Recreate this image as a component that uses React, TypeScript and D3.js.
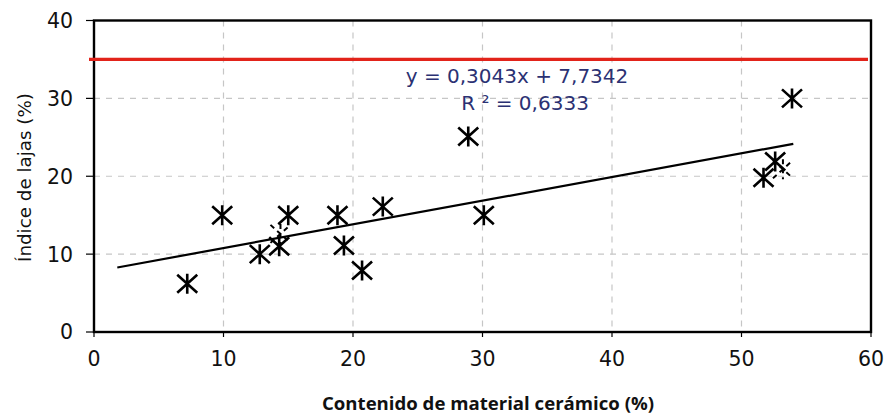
import React, { useEffect, useRef } from "react";
import * as d3 from "d3";

const xValues = [7.2, 9.9, 12.8, 14.3, 15.0, 18.8, 19.3, 20.7, 22.3, 28.9, 30.1, 51.7, 52.6, 53.9];
const yValues = [6.2, 15.0, 10.0, 11.0, 15.0, 15.0, 11.1, 7.9, 16.1, 25.1, 15.0, 19.8, 21.9, 30.0];
// markers drawn half-hidden (dashed) in the original
const ghostX = [14.4, 53.2];
const ghostY = [12.6, 20.9];
const xTicks = [0, 10, 20, 30, 40, 50, 60];
const yTicks = [0, 10, 20, 30, 40];
const slope = 0.3043;
const intercept = 7.7342;
const trendRange = [1.8, 54];
const limit = 35;

const W = 885;
const H = 414;
const margin = { left: 94, right: 14, top: 20.5, bottom: 82 };

const App = () => {
  const svgRef = useRef(null);

  useEffect(() => {
    const svg = d3.select(svgRef.current);
    svg.selectAll("*").remove();

    const x = d3.scaleLinear().domain([0, 60]).range([margin.left, W - margin.right]);
    const y = d3.scaleLinear().domain([0, 40]).range([H - margin.bottom, margin.top]);

    // grid
    svg.append("g")
      .selectAll("line")
      .data(xTicks.slice(1, -1))
      .join("line")
      .attr("x1", d => x(d)).attr("x2", d => x(d))
      .attr("y1", y(40)).attr("y2", y(0))
      .attr("stroke", "#c6c6c6").attr("stroke-width", 1.2).attr("stroke-dasharray", "6,6");
    svg.append("g")
      .selectAll("line")
      .data(yTicks.slice(1, -1))
      .join("line")
      .attr("x1", x(0)).attr("x2", x(60))
      .attr("y1", d => y(d)).attr("y2", d => y(d))
      .attr("stroke", "#c6c6c6").attr("stroke-width", 1.2).attr("stroke-dasharray", "6,6");

    // frame
    svg.append("rect")
      .attr("x", x(0)).attr("y", y(40))
      .attr("width", x(60) - x(0)).attr("height", y(0) - y(40))
      .attr("fill", "none").attr("stroke", "#000").attr("stroke-width", 2.4);

    // ticks
    svg.append("g")
      .selectAll("line")
      .data(yTicks)
      .join("line")
      .attr("x1", x(0) - 8).attr("x2", x(0))
      .attr("y1", d => y(d)).attr("y2", d => y(d))
      .attr("stroke", "#000").attr("stroke-width", 1.2);
    svg.append("g")
      .selectAll("line")
      .data(xTicks)
      .join("line")
      .attr("x1", d => x(d)).attr("x2", d => x(d))
      .attr("y1", y(0)).attr("y2", y(0) + 5)
      .attr("stroke", "#000").attr("stroke-width", 1.2);

    svg.append("g")
      .selectAll("text")
      .data(yTicks)
      .join("text")
      .attr("x", x(0) - 21).attr("y", d => y(d))
      .attr("dy", "0.36em")
      .attr("text-anchor", "end")
      .attr("font-family", "DejaVu Sans, sans-serif")
      .attr("font-size", 20.5)
      .attr("fill", "#111")
      .text(d => d);

    svg.append("g")
      .selectAll("text")
      .data(xTicks)
      .join("text")
      .attr("x", d => x(d)).attr("y", y(0) + 34)
      .attr("text-anchor", "middle")
      .attr("font-family", "DejaVu Sans, sans-serif")
      .attr("font-size", 20.5)
      .attr("fill", "#111")
      .text(d => d);

    // red limit line
    svg.append("line")
      .attr("x1", x(0) - 5).attr("x2", x(60) - 3)
      .attr("y1", y(limit)).attr("y2", y(limit))
      .attr("stroke", "#e2231a").attr("stroke-width", 3.2);

    // trend line
    svg.append("line")
      .attr("x1", x(trendRange[0])).attr("y1", y(slope * trendRange[0] + intercept))
      .attr("x2", x(trendRange[1])).attr("y2", y(slope * trendRange[1] + intercept))
      .attr("stroke", "#000").attr("stroke-width", 2.2);

    const star = (g, px, py, dashed) => {
      const a = 10, b = 9;
      const path = `M${px - a},${py - b}L${px + a},${py + b}M${px - a},${py + b}L${px + a},${py - b}M${px},${py - b - 1}L${px},${py + b + 1}`;
      g.append("path")
        .attr("d", path)
        .attr("stroke", "#000")
        .attr("stroke-width", dashed ? 2 : 2.6)
        .attr("fill", "none")
        .attr("stroke-dasharray", dashed ? "5,4" : null);
    };

    const pts = svg.append("g");
    ghostX.forEach((v, i) => star(pts, x(v), y(ghostY[i]), true));
    xValues.forEach((v, i) => star(pts, x(v), y(yValues[i]), false));

    // equation
    const eq = svg.append("g")
      .attr("font-family", "DejaVu Sans, sans-serif")
      .attr("font-size", 20)
      .attr("fill", "#2b3173")
      .attr("text-anchor", "middle");
    eq.append("text").attr("x", 517).attr("y", 83).text("y = 0,3043x + 7,7342");
    eq.append("text").attr("x", 525).attr("y", 110).text("R ² = 0,6333");

    // axis titles
    svg.append("text")
      .attr("x", 488).attr("y", 410)
      .attr("text-anchor", "middle")
      .attr("font-family", "Open Sans, sans-serif")
      .attr("font-weight", "bold")
      .attr("font-size", 18.6)
      .attr("fill", "#111")
      .text("Contenido de material cerámico (%)");
    svg.append("text")
      .attr("transform", `translate(31, 177.5) rotate(-90)`)
      .attr("text-anchor", "middle")
      .attr("font-family", "DejaVu Sans, sans-serif")
      .attr("font-size", 18.3)
      .attr("fill", "#111")
      .text("Índice de lajas (%)");
  }, []);

  return (
    <svg ref={svgRef} width={W} height={H} style={{ position: "absolute", left: 0, top: 0, background: "#fff" }} />
  );
};

export default App;
